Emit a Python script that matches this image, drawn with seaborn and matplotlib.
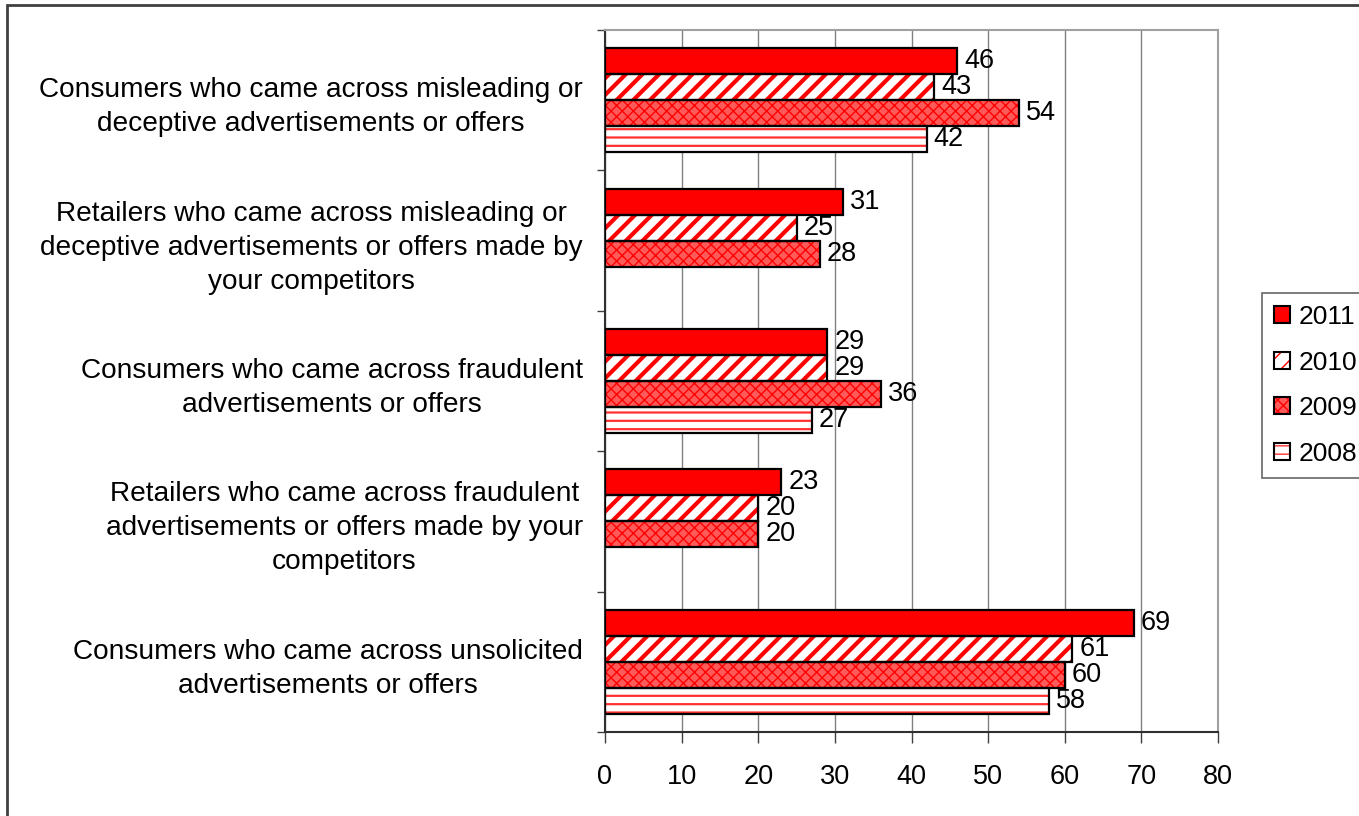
import numpy as np
import pandas as pd
import matplotlib
matplotlib.use("Agg")
import matplotlib.pyplot as plt
from matplotlib.patches import Rectangle, Patch
from matplotlib.legend_handler import HandlerTuple
import seaborn as sns

categories = [
    "Consumers who came across misleading or\ndeceptive advertisements or offers",
    "Retailers who came across misleading or\ndeceptive advertisements or offers made by\nyour competitors",
    "Consumers who came across fraudulent\nadvertisements or offers",
    "Retailers who came across fraudulent\nadvertisements or offers made by your\ncompetitors",
    "Consumers who came across unsolicited\nadvertisements or offers",
]
years = ["2011", "2010", "2009", "2008"]
v2011 = [46, 31, 29, 23, 69]
v2010 = [43, 25, 29, 20, 61]
v2009 = [54, 28, 36, 20, 60]
v2008 = [42, None, 27, None, 58]
xticks = [0, 10, 20, 30, 40, 50, 60, 70, 80]

rows = []
for yr, vals in zip(years, [v2011, v2010, v2009, v2008]):
    for c, v in zip(categories, vals):
        if v is not None:
            rows.append({"category": c, "year": yr, "value": v})
df = pd.DataFrame(rows)

sns.set_style("white")
plt.rcParams["font.family"] = ["Liberation Sans", "DejaVu Sans"]
plt.rcParams["hatch.linewidth"] = 1.0
plt.rcParams["text.color"] = "black"
plt.rcParams["xtick.color"] = "black"
plt.rcParams["ytick.color"] = "black"

FS_LAB = 20.2
FS_NUM = 19.5
fig = plt.figure(figsize=(13.59, 8.16), dpi=100)
ax = fig.add_axes([605 / 1359, 1 - 732 / 816, (1218 - 605) / 1359, (732 - 30) / 816])

sns.barplot(data=df, y="category", x="value", hue="year", hue_order=years,
            order=categories, orient="h", width=0.74, palette=["red"] * 4,
            ax=ax, legend=False, saturation=1)

styles = {
    "2011": dict(fc="#ff0000", hatch=None, hc="#ff0000", hlw=1.0),
    "2010": dict(fc="white", hatch="//", hc="#ff0000", hlw=3.0),
    "2009": dict(fc="#ff5a5a", hatch="xxx", hc="#ff0000", hlw=1.0),
    "2008": dict(fc="white", hatch="--", hc="#ff3030", hlw=1.6),
}

def style_patch(p, st):
    p.set_facecolor(st["fc"])
    p.set_edgecolor(st["hc"])
    p.set_linewidth(0)
    if st["hatch"]:
        p.set_hatch(st["hatch"])
        if hasattr(p, "set_hatch_linewidth"):
            p.set_hatch_linewidth(st["hlw"])

for yr, cont in zip(years, ax.containers):
    st = styles[yr]
    for p in cont.patches:
        style_patch(p, st)
        ax.add_patch(Rectangle(p.get_xy(), p.get_width(), p.get_height(),
                               fill=False, ec="black", lw=1.6, zorder=3))
    ax.bar_label(cont, fmt="%g", padding=5, fontsize=FS_NUM, color="black")

ax.set_xlim(0, 80)
ax.set_xticks(xticks)
ax.set_xlabel("")
ax.set_ylabel("")
ax.set_ylim(4.5, -0.5)
ax.xaxis.grid(True, color="#808080", lw=1.0)
ax.set_axisbelow(True)
ax.tick_params(axis="x", labelsize=FS_NUM, length=8, width=1, direction="out",
               pad=15, color="#404040", bottom=True, labelcolor="black")
ax.tick_params(axis="y", which="major", length=0, pad=16, labelsize=FS_LAB,
               labelcolor="black")
ax.set_yticks(np.arange(-0.5, 5.0, 1.0), minor=True)
ax.tick_params(axis="y", which="minor", length=6, width=1, color="#404040", left=True)
for lab in ax.get_yticklabels():
    lab.set_multialignment("center")
    lab.set_linespacing(1.4)

ax.spines["top"].set_color("#a0a0a0")
ax.spines["right"].set_color("#a0a0a0")
ax.spines["left"].set_color("#303030")
ax.spines["bottom"].set_color("#303030")
for s in ax.spines.values():
    s.set_linewidth(1.5)

handles = []
for yr in years:
    st = styles[yr]
    ph = Patch(facecolor=st["fc"], edgecolor=st["hc"], hatch=st["hatch"], lw=0)
    po = Patch(facecolor="none", edgecolor="black", lw=1.5)
    handles.append((ph, po))
leg = fig.legend(handles, years, loc="upper left",
                 bbox_to_anchor=(1262 / 1359, 1 - 293 / 816),
                 handler_map={tuple: HandlerTuple(ndivide=1)},
                 fontsize=19, frameon=True, fancybox=False, borderaxespad=0,
                 handlelength=0.6, handleheight=0.6, handletextpad=0.33,
                 labelspacing=0.82, borderpad=0.45)
leg.get_frame().set_edgecolor("#404040")
leg.get_frame().set_linewidth(1.2)

fig.patches.append(Rectangle((7 / 1359, -0.05), 1.2, 1 - 5 / 816 + 0.05,
                             transform=fig.transFigure, fill=False,
                             ec="#404040", lw=2))

fig.savefig("out.png", dpi=100)
